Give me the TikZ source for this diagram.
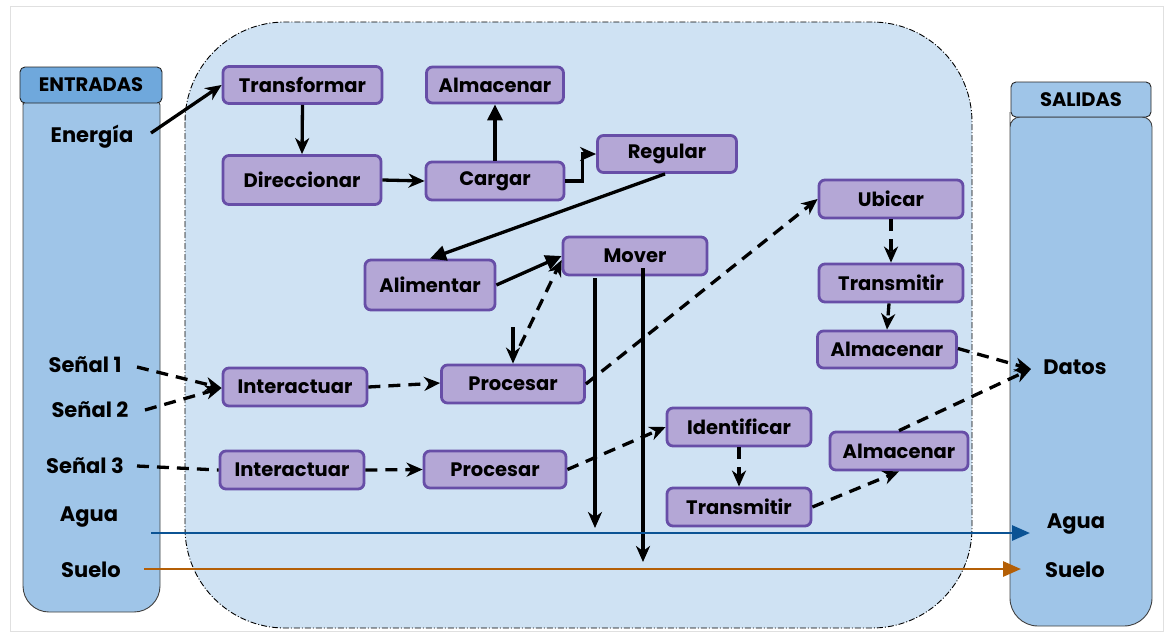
\documentclass[tikz,border=0pt]{standalone}
\usepackage{fontspec}
\setmainfont{Poppins}
\usetikzlibrary{arrows.meta,calc}
\definecolor{regbg}{HTML}{CFE2F3}
\definecolor{hdrA}{HTML}{6FA8DC}
\definecolor{colbg}{HTML}{9FC5E8}
\definecolor{boxfill}{HTML}{B4A7D6}
\definecolor{boxline}{HTML}{674EA7}
\definecolor{aguac}{HTML}{0B5394}
\definecolor{sueloc}{HTML}{B45F06}
\tikzset{
  fn/.style={font=\fontsize{19.5}{23}\selectfont\bfseries},
  proc/.style={fn, draw=boxline, fill=boxfill, line width=2.8pt, rounded corners=6pt,
    minimum width=#1, minimum height=38pt, inner sep=0pt},
  lbl/.style={font=\fontsize{21}{25}\selectfont\bfseries, inner sep=0pt, anchor=base},
  hdr/.style={font=\fontsize{19.5}{23}\selectfont\bfseries, draw=black!85, line width=0.9pt,
    rounded corners=5pt, minimum height=36pt, inner sep=0pt},
  arr/.style={line width=3.3pt, -{Stealth[length=16pt,width=14pt,inset=5pt]}},
  darr/.style={arr, dash pattern=on 12pt off 8pt},
  dline/.style={line width=3.3pt, dash pattern=on 12pt off 8pt},
  flow/.style={line width=2.8pt, -{Triangle[length=18pt,width=15pt]}},
  tri/.style={line width=3.3pt, -{Triangle[length=16pt,width=15pt]}},
}
\begin{document}
\begin{tikzpicture}[x=1pt,y=-1pt]
\useasboundingbox (0,0) rectangle (1170,638);
\draw[black!12, line width=1pt] (10,6) rectangle (1163,631);
% central region
\draw[fill=regbg, line width=0.9pt, dash pattern=on 6pt off 2pt on 1pt off 2pt, rounded corners=100pt]
  (185,22) rectangle (972,628);
% ENTRADAS column
\draw[fill=colbg, draw=black!75, line width=0.9pt] (23,125) [rounded corners=5pt] -- (23,100) -- (160,100) -- (160,125)
  [rounded corners=26pt] -- (160,612) -- (23,612) -- cycle;
\node[hdr, fill=hdrA, minimum width=142pt] (entr) at (91,85) {ENTRADAS};
% SALIDAS column
\draw[fill=colbg, draw=black!75, line width=0.9pt] (1010,140) [rounded corners=10pt] -- (1010,117) -- (1152,117) -- (1152,140)
  [rounded corners=28pt] -- (1152,626) -- (1010,626) -- cycle;
\node[hdr, fill=colbg, minimum width=140pt, minimum height=35pt] (sal) at (1081,99.5) {SALIDAS};

% labels left (base anchors)
\node[lbl] (energia) at (92,142) {Energía};
\node[lbl] (s1) at (85,372) {Señal 1};
\node[lbl] (s2) at (90,417) {Señal 2};
\node[lbl] (s3) at (85,473) {Señal 3};
\node[lbl] (aguaL) at (89,521) {Agua};
\node[lbl] (sueloL) at (91,577) {Suelo};
% labels right
\node[lbl] (datos) at (1075,374) {Datos};
\node[lbl] (aguaR) at (1076,528) {Agua};
\node[lbl] (sueloR) at (1075,577) {Suelo};

% process boxes
\node[proc=159pt, minimum height=37pt] (transf) at (302.5,85) {Transformar};
\node[proc=158pt, minimum height=49pt] (direc) at (302,180) {Direccionar};
\node[proc=137pt, minimum height=36pt] (alm1) at (495,85) {Almacenar};
\node[proc=138pt] (cargar) at (495,181) {Cargar};
\node[proc=139pt, minimum height=37pt] (regular) at (667,154) {Regular};
\node[proc=130pt, minimum height=50pt] (alim) at (430,285) {Alimentar};
\node[proc=144pt] (mover) at (635,256) {Mover};
\node[proc=143pt] (proc1) at (513,384) {Procesar};
\node[proc=144pt] (inter1) at (295,387) {Interactuar};
\node[proc=144pt] (inter2) at (292,470) {Interactuar};
\node[proc=142pt, minimum height=37pt] (proc2) at (495,469.5) {Procesar};
\node[proc=144pt] (ident) at (739,427) {Identificar};
\node[proc=144pt] (trans2) at (739,507) {Transmitir};
\node[proc=138pt] (alm3) at (899,451) {Almacenar};
\node[proc=144pt] (ubicar) at (891,199) {Ubicar};
\node[proc=144pt] (trans1) at (891,283) {Transmitir};
\node[proc=139pt, minimum height=37pt] (alm2) at (887,349.5) {Almacenar};

% coordinates for free ends
\coordinate (eStart) at (151,133);
\coordinate (pdStart) at (520,346);
\coordinate (pSolid) at (513,327);
\coordinate (v1a) at (595,278);
\coordinate (v1b) at (595,528);
\coordinate (v2a) at (643,268);
\coordinate (v2b) at (643,562);
\coordinate (aguaA) at (151,533);
\coordinate (aguaB) at (1030,533);
\coordinate (sueloA) at (144,569);
\coordinate (sueloB) at (1021,569);
\coordinate (s1e) at (137,367);
\coordinate (s2e) at (145,410);
\coordinate (s3e) at (137,466);
\coordinate (datosW) at (1031,369);

% solid connectors
\draw[arr] (eStart) -- (transf.west);
\draw[arr] (transf.south) -- (direc.north);
\draw[arr] (direc.east) -- (cargar.west);
\draw[tri] (cargar.north) -- (alm1.south);
\draw[arr] (cargar.east) -- ++(17,0) |- (regular.west);
\draw[tri] ([xshift=-2pt]regular.south) -- (alim.north);
\draw[tri] (alim.east) -- (mover.west);
\draw[darr] (pdStart) -- ([yshift=-4pt]mover.west);
\draw[arr] (pSolid) -- (proc1.north);
\draw[arr] (v1a) -- (v1b);
\draw[arr] (v2a) -- (v2b);

% dashed connectors
\draw[darr] (s1e) -- ([yshift=-1pt]inter1.west);
\draw[darr] (s2e) -- ([yshift=-1pt]inter1.west);
\draw[darr] (inter1.east) -- ([yshift=1pt]proc1.west);
\draw[darr] (proc1.east) -- (ubicar.west);
\draw[darr] (ubicar.south) -- (trans1.north);
\draw[darr] ([xshift=-2pt]trans1.south) -- ([xshift=0pt]alm2.north);
\draw[darr] ([yshift=1pt]alm2.east) -- (datosW);
\draw[darr] (alm3.north) -- (datosW);
\draw[dline] (s3e) -- (inter2.west);
\draw[darr] (inter2.east) -- (proc2.west);
\draw[darr] (proc2.east) -- (ident.west);
\draw[darr] (ident.south) -- (trans2.north);
\draw[darr] (trans2.east) -- (alm3.south);

% flows
\draw[flow, aguac] (aguaA) -- (aguaB);
\draw[flow, sueloc] (sueloA) -- (sueloB);
\end{tikzpicture}
\end{document}
